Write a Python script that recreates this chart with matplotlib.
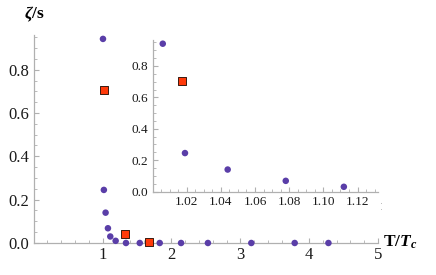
import numpy as np
import matplotlib
matplotlib.use("Agg")
import matplotlib.pyplot as plt
from matplotlib.ticker import MultipleLocator, FixedLocator
from matplotlib.transforms import Bbox, offset_copy

plt.rcParams['font.family'] = ['Liberation Serif', 'DejaVu Serif']
plt.rcParams['mathtext.fontset'] = 'custom'
plt.rcParams['mathtext.rm'] = 'Liberation Serif:bold'
plt.rcParams['mathtext.bf'] = 'Liberation Serif:bold'
plt.rcParams['mathtext.it'] = 'Liberation Serif:italic:bold'

# circles (purple) and squares (red) : T/Tc vs zeta/s
circ_T = [1.006, 1.019, 1.044, 1.078, 1.112, 1.19, 1.34, 1.54, 1.83, 2.14, 2.53, 3.16, 3.79, 4.28]
circ_z = [0.942, 0.245, 0.140, 0.068, 0.030, 0.010, 0.0, 0.0, 0.0, 0.0, 0.0, 0.0, 0.0, 0.0]
sq_T = [1.017, 1.32, 1.68]
sq_z = [0.706, 0.043, 0.003]

main_xticks = [1, 2, 3, 4, 5]
main_yticks = [0.0, 0.2, 0.4, 0.6, 0.8]
inset_xticks = [1.02, 1.04, 1.06, 1.08, 1.10, 1.12]
inset_yticks = [0.0, 0.2, 0.4, 0.6, 0.8]

purple = '#5a3ea8'
red = '#ff3a0a'
axis_gray = '#b0b0b0'


def style_axes(ax, labelsize):
    for s in ['top', 'right']:
        ax.spines[s].set_visible(False)
    for s in ['left', 'bottom']:
        ax.spines[s].set_color(axis_gray)
        ax.spines[s].set_linewidth(0.9)
    ax.tick_params(which='both', direction='in', color=axis_gray, labelsize=labelsize,
                   labelcolor='#1a1a1a', pad=3)
    ax.tick_params(which='major', length=3.5, width=0.8)
    ax.tick_params(which='minor', length=2, width=0.6)
    ax.patch.set_alpha(0)


def draw_points(ax, xlim):
    ct = np.array(circ_T)
    cz = np.array(circ_z)
    st = np.array(sq_T)
    sz = np.array(sq_z)
    cm = ct <= xlim[1]
    sm = st <= xlim[1]
    ax.scatter(ct[cm], cz[cm], s=22, color=purple, edgecolors='none', zorder=5, clip_on=False)
    ax.scatter(st[sm], sz[sm], s=38, marker='s', color=red, edgecolors='#3a1a10',
               linewidths=0.7, zorder=6, clip_on=False)


fig = plt.figure(figsize=(4.36, 2.75), dpi=100)

# main axes
ax = fig.add_axes([0.0773, 0.1164, 0.7897, 0.7563])
ax.set_xlim(0, 5)
ax.set_ylim(0, 0.96)
style_axes(ax, 12)
ax.xaxis.set_major_locator(FixedLocator(main_xticks))
ax.xaxis.set_minor_locator(MultipleLocator(0.2))
ax.yaxis.set_major_locator(FixedLocator(main_yticks))
ax.yaxis.set_minor_locator(MultipleLocator(0.05))
ax.set_xticklabels([str(t) for t in main_xticks])
ax.set_yticklabels([f'{t:.1f}' for t in main_yticks])
draw_points(ax, ax.get_xlim())

fig.text(0.078, 0.948, r'$\zeta/\mathbf{s}$', fontsize=12.5, ha='center', va='center')
fig.text(0.918, 0.118, r'$\mathbf{T}/T_c$', fontsize=12.5, ha='center', va='center')

# inset
axi = fig.add_axes([0.3498, 0.3036, 0.5172, 0.5506])
axi.set_xlim(1.0, 1.132)
axi.set_ylim(0, 0.965)
style_axes(axi, 9.5)
axi.xaxis.set_major_locator(FixedLocator(inset_xticks))
axi.xaxis.set_minor_locator(MultipleLocator(0.005))
axi.yaxis.set_major_locator(FixedLocator(inset_yticks))
axi.yaxis.set_minor_locator(MultipleLocator(0.05))
axi.set_xticklabels([f'{t:.2f}' for t in inset_xticks])
axi.set_yticklabels([f'{t:.1f}' for t in inset_yticks])
draw_points(axi, axi.get_xlim())

# partly hidden next tick label at the right edge of the inset
lab = axi.text(1.14, 0, '1.14', fontsize=9.5, color='#1a1a1a', ha='center', va='top',
               transform=offset_copy(axi.get_xaxis_transform(), fig=fig, y=-6.5, units='points'),
               clip_on=True)
lab.set_clip_box(Bbox([[0, 0], [382, 275]]))

fig.savefig('out.png', dpi=100)
